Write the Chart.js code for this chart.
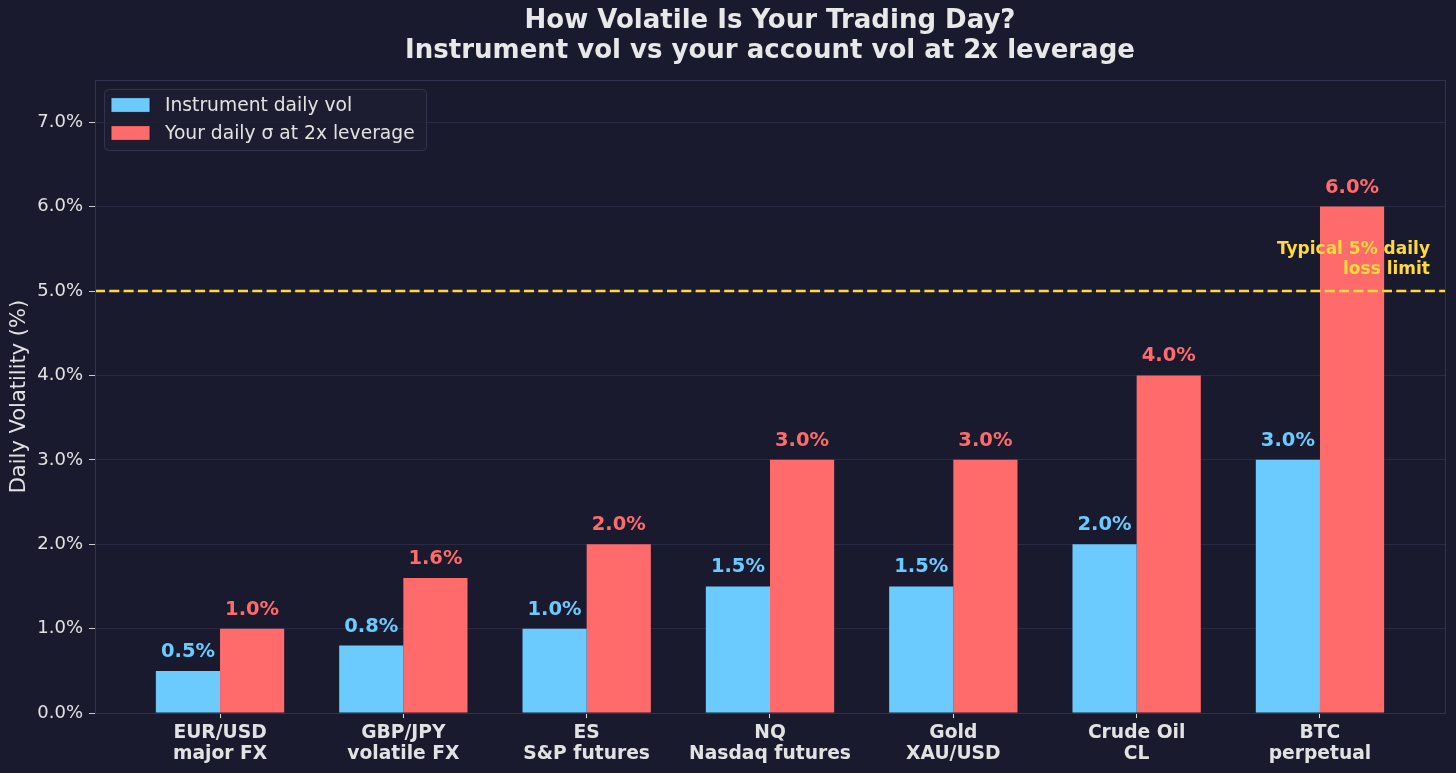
<!DOCTYPE html>
<html><head><meta charset="utf-8">
<script src="https://cdn.jsdelivr.net/npm/chart.js@4.4.1/dist/chart.umd.min.js"></script>
<style>html,body{margin:0;padding:0;background:#1a1a2e;overflow:hidden;}</style>
</head><body>
<canvas id="c" width="1456" height="773" style="display:block;width:1456px;height:773px"></canvas>
<script>
const categories = [["EUR/USD","major FX"],["GBP/JPY","volatile FX"],["ES","S&P futures"],["NQ","Nasdaq futures"],["Gold","XAU/USD"],["Crude Oil","CL"],["BTC","perpetual"]];
const instrumentVol = [0.5, 0.8, 1.0, 1.5, 1.5, 2.0, 3.0];
const accountVol = [1.0, 1.6, 2.0, 3.0, 3.0, 4.0, 6.0];
const yTicks = [0, 1, 2, 3, 4, 5, 6, 7];
const lossLimit = 5.0;
const seriesNames = ["Instrument daily vol", "Your daily σ at 2x leverage"];
const titleLines = ["How Volatile Is Your Trading Day?", "Instrument vol vs your account vol at 2x leverage"];
const limitLabel = ["Typical 5% daily", "loss limit"];

const BG = '#1a1a2e', BLUE = '#6BCBFF', RED = '#FF6B6B', YEL = '#FFD93D', TXT = '#e2e2e2';
const FONT = "'DejaVu Sans', sans-serif";
Chart.defaults.font.family = FONT;

const frame = {
  id: 'frame',
  beforeDraw(chart) {
    const c = chart.ctx; c.save(); c.fillStyle = BG; c.fillRect(0, 0, chart.width, chart.height); c.restore();
  },
  afterDraw(chart) {
    const c = chart.ctx, a = chart.chartArea;
    c.save(); c.strokeStyle = '#32324e'; c.lineWidth = 1;
    c.strokeRect(Math.round(a.left) + 0.5, Math.round(a.top) + 0.5, Math.round(a.right - a.left), Math.round(a.bottom - a.top));
    c.fillStyle = '#e8e8e8'; c.font = "bold 26px " + FONT; c.textAlign = 'center'; c.textBaseline = 'middle';
    const cx = (a.left + a.right) / 2;
    c.fillText(titleLines[0], cx, 21);
    c.fillText(titleLines[1], cx, 51);
    c.restore();
  }
};

const overlay = {
  id: 'overlay',
  afterDatasetsDraw(chart) {
    const c = chart.ctx, a = chart.chartArea, y = chart.scales.y;
    c.save();
    c.font = "bold 19.5px " + FONT; c.textAlign = 'center'; c.textBaseline = 'alphabetic';
    chart.data.datasets.forEach((ds, di) => {
      const meta = chart.getDatasetMeta(di);
      meta.data.forEach((bar, i) => {
        c.fillStyle = ds.backgroundColor;
        c.fillText(ds.data[i].y.toFixed(1) + '%', bar.x, bar.y - 14);
      });
    });
    const ly = y.getPixelForValue(lossLimit);
    c.strokeStyle = YEL; c.lineWidth = 2.6; c.setLineDash([10, 4.3]);
    c.beginPath(); c.moveTo(a.left, ly); c.lineTo(a.right, ly); c.stroke();
    c.setLineDash([]);
    c.fillStyle = YEL; c.font = "bold 17px " + FONT; c.textAlign = 'right'; c.textBaseline = 'middle';
    c.fillText(limitLabel[0], a.right - 15, ly - 41);
    c.fillText(limitLabel[1], a.right - 15, ly - 21);
    const lx = a.left + 9, lt = a.top + 9;
    c.fillStyle = 'rgba(30,30,50,0.85)'; c.strokeStyle = '#33334f'; c.lineWidth = 1;
    c.beginPath(); c.roundRect(lx + 0.5, lt + 0.5, 322, 61, 4); c.fill(); c.stroke();
    c.font = "18.7px " + FONT; c.textAlign = 'left'; c.textBaseline = 'middle';
    [BLUE, RED].forEach((col, k) => {
      const cy = lt + 16 + k * 28;
      c.fillStyle = col; c.fillRect(lx + 7, cy - 7.3, 39, 14.6);
      c.strokeStyle = '#111122'; c.lineWidth = 0.8; c.strokeRect(lx + 7, cy - 7.3, 39, 14.6);
      c.fillStyle = TXT; c.fillText(seriesNames[k], lx + 61, cy + 1);
    });
    c.restore();
  }
};

new Chart(document.getElementById('c'), {
  type: 'bar',
  data: {
    datasets: [
      { label: seriesNames[0], data: instrumentVol.map((v, i) => ({ x: i, y: v })), backgroundColor: BLUE, borderWidth: 0, categoryPercentage: 0.7, barPercentage: 1.0 },
      { label: seriesNames[1], data: accountVol.map((v, i) => ({ x: i, y: v })), backgroundColor: RED, borderWidth: 0, categoryPercentage: 0.7, barPercentage: 1.0 }
    ]
  },
  options: {
    responsive: false, animation: false, devicePixelRatio: 1,
    layout: { padding: { left: 0, right: 11, top: 80, bottom: 3 } },
    plugins: {
      legend: { display: false },
      tooltip: { enabled: false },
      title: { display: false }
    },
    scales: {
      x: {
        type: 'linear', min: -0.682, max: 6.682, offset: false,
        afterBuildTicks: s => { s.ticks = categories.map((_, i) => ({ value: i })); },
        ticks: {
          color: TXT, font: { size: 18.7, weight: 'bold', lineHeight: 1.12 }, padding: 5,
          maxRotation: 0, autoSkip: false,
          callback: v => categories[Math.round(v)]
        },
        grid: { offset: false, drawOnChartArea: false, drawTicks: true, tickLength: 5, tickColor: '#dddddd', tickWidth: 1 },
        border: { display: false }
      },
      y: {
        min: 0, max: 7.5,
        afterBuildTicks: s => { s.ticks = yTicks.map(v => ({ value: v })); },
        afterFit: s => { s.width = 95; },
        ticks: { color: TXT, font: { size: 18 }, padding: 6, callback: v => v.toFixed(1) + '%' },
        grid: { color: '#2a2a44', lineWidth: 1, drawTicks: true, tickLength: 6, tickColor: '#cccccc' },
        border: { display: false },
        title: { display: true, text: 'Daily Volatility (%)', color: TXT, font: { size: 21 }, padding: { top: 7, bottom: 0 } }
      }
    }
  },
  plugins: [frame, overlay]
});
</script>
</body></html>
